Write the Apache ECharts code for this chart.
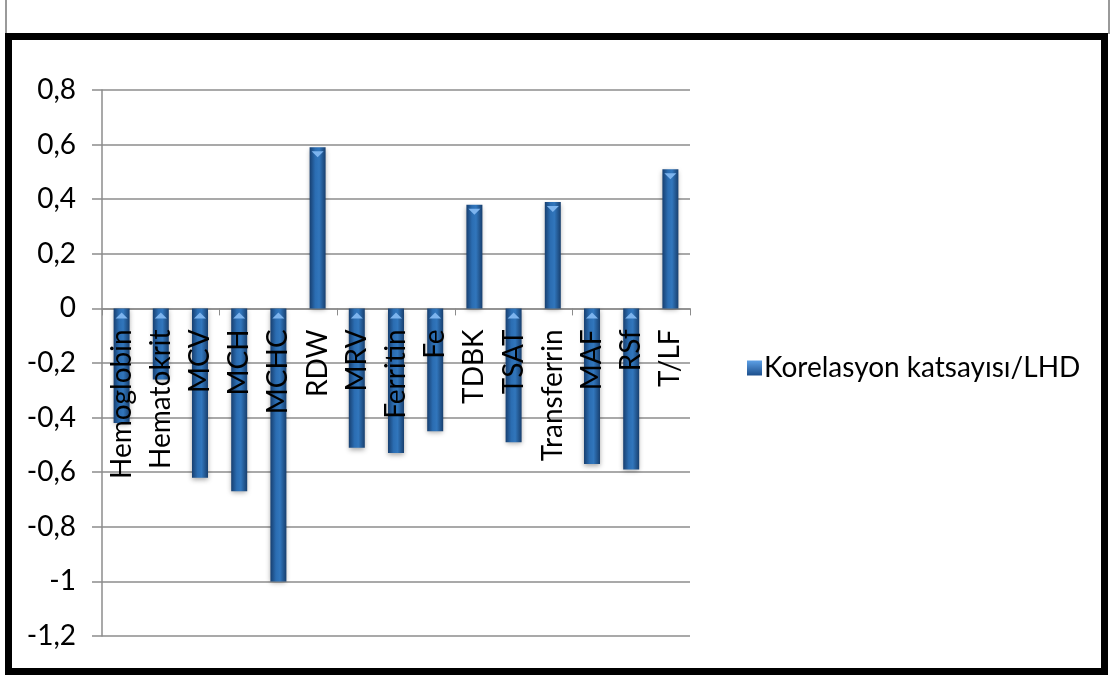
<!DOCTYPE html>
<html>
<head>
<meta charset="utf-8">
<script src="https://cdn.jsdelivr.net/npm/echarts@6/dist/echarts.min.js"></script>
<style>
  html, body { margin: 0; padding: 0; background: #fff; }
  #chart { width: 1112px; height: 675px; }
</style>
</head>
<body>
<div id="chart"></div>
<script>
// Correlation of each parameter with LHD
const categories = ['Hemoglobin', 'Hematokrit', 'MCV', 'MCH', 'MCHC', 'RDW', 'MRV', 'Ferritin', 'Fe', 'TDBK', 'TSAT', 'Transferrin', 'MAF', 'RSf', 'T/LF'];
const values = [-0.42, -0.26, -0.62, -0.67, -1.0, 0.59, -0.51, -0.53, -0.45, 0.38, -0.49, 0.39, -0.57, -0.59, 0.51];
const seriesName = 'Korelasyon katsayısı/LHD';
const yMin = -1.2, yMax = 0.8, yStep = 0.2;

const FONT = 'Lato, "Open Sans", sans-serif';

// cylinder-like horizontal shading of each bar
const barFill = new echarts.graphic.LinearGradient(0, 0, 1, 0, [
  { offset: 0, color: '#173f70' },
  { offset: 0.35, color: '#2b6db2' },
  { offset: 0.6, color: '#3176bc' },
  { offset: 1, color: '#183f6e' }
]);

// category names hang just below the zero line, drawn over the bars
const barData = values.map(v => ({
  value: v,
  label: { position: v >= 0 ? 'bottom' : 'insideTop' }
}));

// light bevel marker sitting on the upper end of each bar
const capData = values.map(v => ({
  value: v,
  symbolPosition: v >= 0 ? 'end' : 'start',
  symbolOffset: [0, 4]
}));

const chart = echarts.init(document.getElementById('chart'), null, { renderer: 'canvas' });
chart.setOption({
  backgroundColor: '#ffffff',
  animation: false,
  textStyle: { fontFamily: FONT },
  graphic: [
    { type: 'line', shape: { x1: 6, y1: 0, x2: 6, y2: 34 }, style: { stroke: '#9a9a9a', lineWidth: 2 } },
    { type: 'line', shape: { x1: 1109, y1: 0, x2: 1109, y2: 34 }, style: { stroke: '#9a9a9a', lineWidth: 2 } },
    { type: 'rect', shape: { x: 8.5, y: 36.5, width: 1096, height: 635 }, style: { fill: null, stroke: '#000', lineWidth: 7 }, z: 100 }
  ],
  legend: {
    left: 742,
    top: 349,
    orient: 'vertical',
    icon: 'rect',
    itemWidth: 15,
    itemHeight: 15,
    itemGap: 4,
    textStyle: { fontFamily: FONT, fontSize: 28, color: '#000', padding: [0, 0, 0, -3] },
    data: [{ name: seriesName, itemStyle: { color: new echarts.graphic.LinearGradient(0, 0, 0, 1, [
      { offset: 0, color: '#5da0e6' }, { offset: 1, color: '#1c4f8c' }]) } }]
  },
  grid: { left: 102, right: 422, top: 90, bottom: 39, containLabel: false, outerBoundsMode: 'none' },
  xAxis: {
    type: 'category',
    data: categories,
    axisLine: { onZero: true, lineStyle: { color: '#8c8c8c', width: 1.5 } },
    axisTick: { show: true, length: 7, inside: false, lineStyle: { color: '#8c8c8c' } },
    axisLabel: { show: false }
  },
  yAxis: {
    type: 'value',
    min: yMin,
    max: yMax,
    interval: yStep,
    axisLine: { show: true, lineStyle: { color: '#8c8c8c', width: 1.5 } },
    axisTick: { show: true, length: 10, lineStyle: { color: '#8c8c8c', width: 1.5 } },
    splitLine: { lineStyle: { color: '#8c8c8c', width: 1.5 } },
    axisLabel: {
      margin: 26,
      fontFamily: FONT,
      fontSize: 28,
      color: '#000',
      formatter: v => String(Math.round(v * 10) / 10).replace('.', ',')
    }
  },
  series: [
    {
      name: seriesName,
      type: 'bar',
      data: barData,
      barWidth: 16,
      itemStyle: {
        color: barFill,
        shadowBlur: 5,
        shadowColor: 'rgba(0,0,0,0.35)',
        shadowOffsetY: 2
      },
      label: {
        show: true,
        formatter: p => categories[p.dataIndex],
        rotate: 90,
        distance: 21,
        align: 'right',
        verticalAlign: 'middle',
        fontFamily: FONT,
        fontSize: 28,
        color: '#000'
      },
      z: 2
    },
    {
      name: 'cap',
      type: 'pictorialBar',
      data: capData,
      barGap: '-100%',
      symbol: 'triangle',
      symbolRotate: 180,
      symbolSize: [12, 6],
      itemStyle: { color: '#7db4ee' },
      z: 3,
      silent: true,
      legendHoverLink: false
    }
  ]
});
</script>
</body>
</html>
